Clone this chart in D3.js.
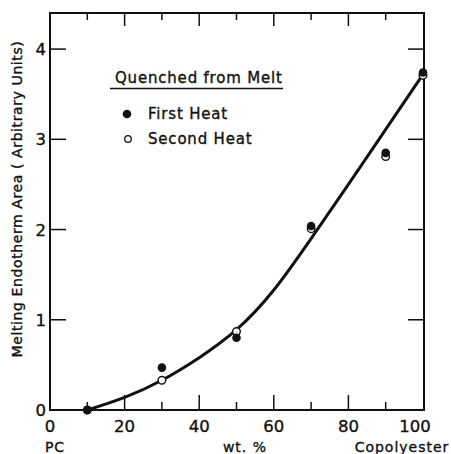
<!DOCTYPE html>
<html><head><meta charset="utf-8">
<script src="https://cdn.jsdelivr.net/npm/d3@7"></script>
<style>body{margin:0;background:#fff}svg{display:block}text{font-family:"DejaVu Sans",sans-serif;fill:#111;stroke:#111;stroke-width:0.35px}</style>
</head><body><svg id="c" width="451" height="454"></svg>
<script>
const composition = [10, 30, 50, 70, 90, 100];
const firstHeat = [0, 0.47, 0.80, 2.04, 2.85, 3.74];
const secondHeat = [0, 0.33, 0.87, 2.01, 2.81, 3.71];
const fitX = [10, 20, 30, 40, 50, 60, 70, 80, 90, 100];
const fitY = [0, 0.14, 0.33, 0.58, 0.89, 1.33, 1.90, 2.50, 3.11, 3.72];
const xTickLabels = [0, 20, 40, 60, 80, 100];
const yTickLabels = [0, 1, 2, 3, 4];
const legendTitle = "Quenched from Melt";
const seriesNames = ["First Heat", "Second Heat"];

const svg = d3.select("#c");
const x = d3.scaleLinear().domain([0, 100]).range([50, 423]);
const y = d3.scaleLinear().domain([0, 4.4]).range([410, 13]);
const ink = "#111";

// frame
svg.append("rect").attr("x", 50).attr("y", 13).attr("width", 374).attr("height", 397)
  .attr("fill", "none").attr("stroke", ink).attr("stroke-width", 2);

// x ticks (bottom + top, inward)
d3.range(10, 100, 10).forEach(v => {
  const major = v % 20 === 0;
  svg.append("line").attr("x1", x(v)).attr("x2", x(v)).attr("y1", 410).attr("y2", 410 - (major ? 15 : 8))
    .attr("stroke", ink).attr("stroke-width", 1.5);
  svg.append("line").attr("x1", x(v)).attr("x2", x(v)).attr("y1", 13).attr("y2", 13 + (major ? 13 : 7))
    .attr("stroke", ink).attr("stroke-width", 1.5);
});
// y ticks (left + right)
[1, 2, 3, 4].forEach(v => {
  svg.append("line").attr("x1", 50).attr("x2", 66).attr("y1", y(v)).attr("y2", y(v)).attr("stroke", ink).attr("stroke-width", 1.5);
  svg.append("line").attr("x1", 424).attr("x2", 408).attr("y1", y(v)).attr("y2", y(v)).attr("stroke", ink).attr("stroke-width", 1.5);
});

// tick labels
xTickLabels.forEach(v => {
  svg.append("text").attr("x", v === 100 ? x(v) - 8 : x(v)).attr("y", 432).attr("text-anchor", "middle")
    .attr("font-size", 16.5).text(v);
});
yTickLabels.forEach(v => {
  svg.append("text").attr("x", 46).attr("y", y(v) + 6).attr("text-anchor", "end")
    .attr("font-size", 16.5).text(v);
});

// axis titles
svg.append("text").attr("x", 55).attr("y", 452).attr("text-anchor", "middle").attr("font-size", 14).attr("letter-spacing", 1).text("PC");
svg.append("text").attr("x", 245).attr("y", 452).attr("text-anchor", "middle").attr("font-size", 14).attr("letter-spacing", 1).text("wt. %");
svg.append("text").attr("x", 402).attr("y", 452).attr("text-anchor", "middle").attr("font-size", 14).attr("letter-spacing", 1).text("Copolyester");
svg.append("text").attr("transform", "translate(22,199) rotate(-90)").attr("text-anchor", "middle")
  .attr("font-size", 14).attr("letter-spacing", 0.6).text("Melting Endotherm Area ( Arbitrary Units)");

// fitted curve
const fit = fitX.map((v, i) => [v, fitY[i]]);
svg.append("path").datum(fit)
  .attr("d", d3.line().x(d => x(d[0])).y(d => y(d[1])).curve(d3.curveNatural))
  .attr("fill", "none").attr("stroke", ink).attr("stroke-width", 3);

// points
svg.selectAll("circle.s2").data(composition.map((v, i) => [v, secondHeat[i]])).enter()
  .append("circle").attr("cx", d => x(d[0])).attr("cy", d => y(d[1])).attr("r", 3.8)
  .attr("fill", "#fff").attr("stroke", ink).attr("stroke-width", 1.4);
svg.selectAll("circle.s1").data(composition.map((v, i) => [v, firstHeat[i]])).enter()
  .append("circle").attr("cx", d => x(d[0])).attr("cy", d => y(d[1])).attr("r", 4.3)
  .attr("fill", ink);

// legend
svg.append("text").attr("x", 115).attr("y", 83).attr("font-size", 15).attr("letter-spacing", 0.8).text(legendTitle);
svg.append("line").attr("x1", 110).attr("x2", 283).attr("y1", 88.5).attr("y2", 88.5).attr("stroke", ink).attr("stroke-width", 1.5);
svg.append("circle").attr("cx", 127).attr("cy", 114).attr("r", 4.3).attr("fill", ink);
svg.append("text").attr("x", 148).attr("y", 119).attr("font-size", 15).attr("letter-spacing", 0.8).text(seriesNames[0]);
svg.append("circle").attr("cx", 128).attr("cy", 139).attr("r", 3.3).attr("fill", "#fff").attr("stroke", ink).attr("stroke-width", 1.3);
svg.append("text").attr("x", 148).attr("y", 144).attr("font-size", 15).attr("letter-spacing", 0.8).text(seriesNames[1]);
</script></body></html>
